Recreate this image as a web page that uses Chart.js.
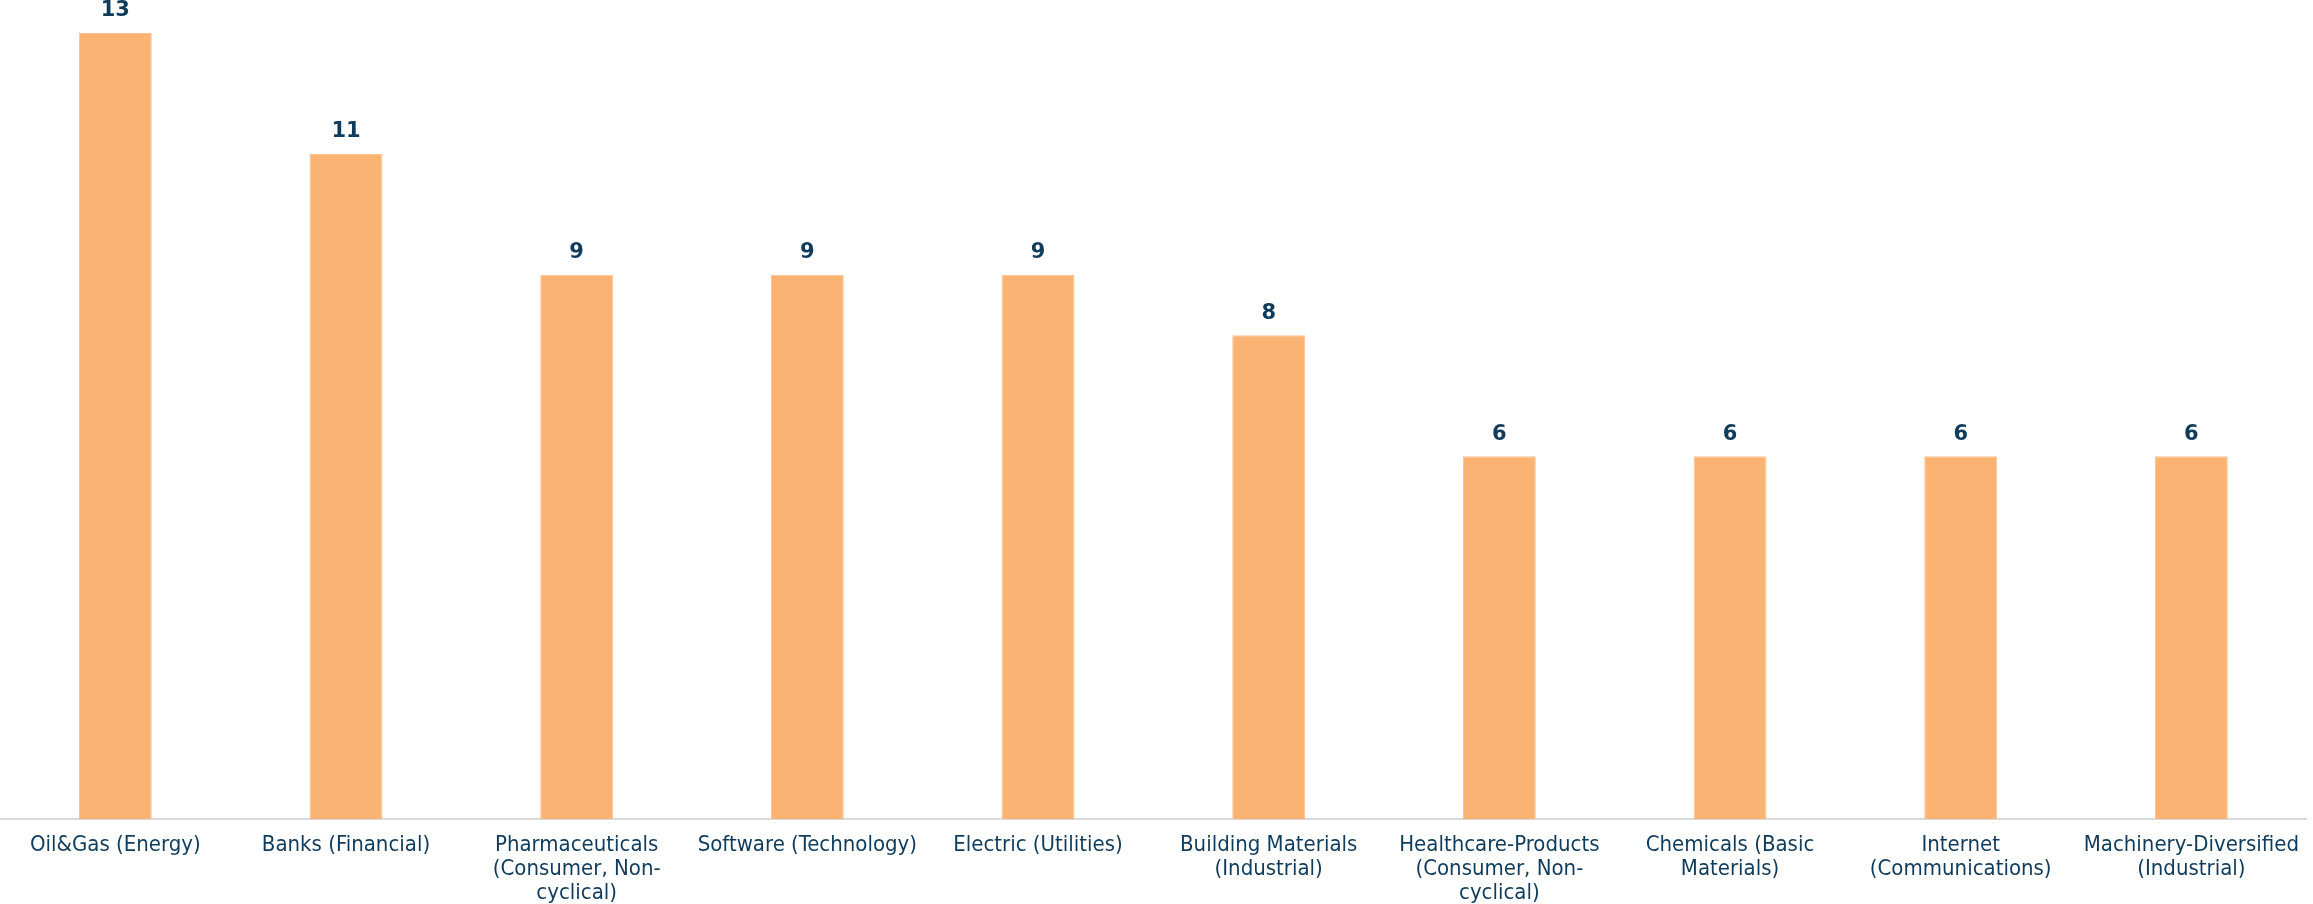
<!DOCTYPE html>
<html>
<head>
<meta charset="utf-8">
<script src="https://cdn.jsdelivr.net/npm/chart.js@4.4.0/dist/chart.umd.min.js"></script>
<style>
  html, body { margin: 0; padding: 0; background: #ffffff; }
  #wrap { width: 2313px; height: 904px; }
</style>
</head>
<body>
<div id="wrap"><canvas id="sectorChart"></canvas></div>
<script>
// industries, each split into the lines shown under the axis
const sectors = [
    ["Oil&Gas (Energy)"],
    ["Banks (Financial)"],
    ["Pharmaceuticals", "(Consumer, Non-", "cyclical)"],
    ["Software (Technology)"],
    ["Electric (Utilities)"],
    ["Building Materials", "(Industrial)"],
    ["Healthcare-Products", "(Consumer, Non-", "cyclical)"],
    ["Chemicals (Basic", "Materials)"],
    ["Internet", "(Communications)"],
    ["Machinery-Diversified", "(Industrial)"]
];
const companyCounts = [13, 11, 9, 9, 9, 8, 6, 6, 6, 6];

const navy = "#0f3b5c";
const barColor = "#fbb374";

// writes the count above each bar
const valueLabels = {
    id: "valueLabels",
    afterDatasetsDraw(chart) {
        const ctx = chart.ctx;
        const meta = chart.getDatasetMeta(0);
        ctx.save();
        ctx.fillStyle = navy;
        ctx.font = "bold 21px 'DejaVu Sans'";
        ctx.textAlign = "center";
        ctx.textBaseline = "middle";
        meta.data.forEach((bar, i) => {
            ctx.fillText(String(companyCounts[i]), bar.x, bar.y - 22);
        });
        ctx.restore();
    }
};

new Chart("sectorChart", {
    type: "bar",
    data: {
        labels: sectors,
        datasets: [{
            data: companyCounts,
            backgroundColor: barColor,
            borderColor: "#fcc391",
            borderWidth: 1,
            categoryPercentage: 1,
            barPercentage: 0.316
        }]
    },
    options: {
        responsive: true,
        maintainAspectRatio: false,
        animation: false,
        layout: { padding: { top: 33, left: 0, right: 0, bottom: 0 } },
        plugins: {
            legend: { display: false },
            tooltip: { enabled: false }
        },
        scales: {
            y: {
                display: false,
                min: 0,
                max: 13
            },
            x: {
                grid: { display: false, drawTicks: false },
                border: { display: true, color: "#d9d9d9", width: 2 },
                ticks: {
                    color: navy,
                    font: { family: "'DejaVu Sans Condensed', 'Liberation Sans Narrow', sans-serif", size: 22, lineHeight: 1.1 },
                    padding: 14,
                    maxRotation: 0,
                    autoSkip: false
                },
                afterFit(scale) {
                    scale.height = 85;
                }
            }
        }
    },
    plugins: [valueLabels]
});
</script>
</body>
</html>
